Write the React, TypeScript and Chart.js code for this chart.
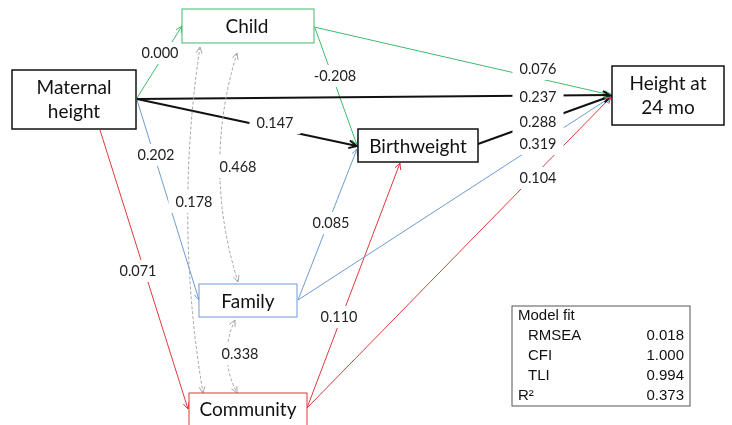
import React, { useEffect, useRef } from "react";
import { Chart, registerables } from "chart.js";
Chart.register(...registerables);

// ---- data ----
const nodeNames = ["Maternal\nheight", "Child", "Birthweight", "Family", "Community", "Height at\n24 mo"];
const pathFrom = ["Maternal", "Maternal", "Maternal", "Maternal", "Maternal", "Child", "Child", "Birthweight", "Family", "Family", "Community", "Community"];
const pathTo = ["Child", "Height", "Birthweight", "Family", "Community", "Height", "Birthweight", "Height", "Birthweight", "Height", "Birthweight", "Height"];
const pathCoef = ["0.000", "0.237", "0.147", "0.202", "0.071", "0.076", "-0.208", "0.288", "0.085", "0.319", "0.110", "0.104"];
const covPairs = ["Child-Community", "Child-Family", "Family-Community"];
const covCoef = ["0.178", "0.468", "0.338"];
const fitTitle = "Model fit";
const fitLabels = ["RMSEA", "CFI", "TLI", "R²"];
const fitValues = ["0.018", "1.000", "0.994", "0.373"];

// ---- layout (positions / styles) ----
const GREEN = "#3dbb6c";
const BLUE = "#6d9bd3";
const RED = "#e0393b";
const BLACK = "#111111";
const GREY = "#a3a3a3";

const nodeBoxes = [
  { x0: 12, y0: 70, x1: 136, y1: 129, color: BLACK, w: 1.5, lines: [[74, 88], [74, 112]] },
  { x0: 182, y0: 9, x1: 314, y1: 43, color: GREEN, w: 1, lines: [[247, 27]] },
  { x0: 358, y0: 129, x1: 478, y1: 162, color: BLACK, w: 1.5, lines: [[418, 147]] },
  { x0: 199, y0: 284, x1: 297, y1: 317, color: BLUE, w: 1, lines: [[248, 302]] },
  { x0: 189, y0: 393, x1: 307, y1: 432, color: RED, w: 1, lines: [[248, 410]] },
  { x0: 612, y0: 66, x1: 724, y1: 125, color: BLACK, w: 1.5, lines: [[668, 84], [668, 108]] },
];

const pathGeom = [
  { a: [137, 98], b: [182, 26], c: GREEN, w: 1, l: [160, 53] },
  { a: [137, 99], b: [611, 95], c: BLACK, w: 2, l: [538, 97] },
  { a: [137, 99], b: [357, 146], c: BLACK, w: 2, l: [275, 123] },
  { a: [137, 100], b: [199, 300], c: BLUE, w: 1, l: [156, 155] },
  { a: [100, 130], b: [188, 409], c: RED, w: 1, l: [138, 271] },
  { a: [314, 27], b: [611, 95], c: GREEN, w: 1, l: [538, 69] },
  { a: [315, 28], b: [357, 145], c: GREEN, w: 1, l: [335, 76] },
  { a: [478, 144], b: [611, 96], c: BLACK, w: 2, l: [538, 122] },
  { a: [298, 300], b: [357, 149], c: BLUE, w: 1, l: [331, 223] },
  { a: [298, 300], b: [611, 97], c: BLUE, w: 1, l: [538, 144] },
  { a: [307, 408], b: [400, 163], c: RED, w: 1, l: [339, 317] },
  { a: [307, 408], b: [611, 97], c: RED, w: 1, l: [538, 178] },
];

const covGeom = [
  { a: [200, 47], ctrl: [174, 220], b: [203, 393], l: [194, 202] },
  { a: [237, 53], ctrl: [202, 167], b: [238, 282], l: [238, 167] },
  { a: [235, 320], ctrl: [218, 356], b: [237, 393], l: [240, 354] },
];

const fitBox = { x0: 512, y0: 306, x1: 690, y1: 406 };

export default function App() {
  const ref = useRef<HTMLCanvasElement | null>(null);
  useEffect(() => {
    document.body.style.margin = "0";
    const canvas = ref.current!;
    const datasets = pathFrom.map((f, i) => ({
      label: f + "→" + pathTo[i] + " " + pathCoef[i],
      data: [
        { x: pathGeom[i].a[0], y: pathGeom[i].a[1] },
        { x: pathGeom[i].b[0], y: pathGeom[i].b[1] },
      ],
      showLine: true,
      borderColor: pathGeom[i].c,
      borderWidth: pathGeom[i].w,
      pointRadius: 0,
      fill: false,
    }));

    const plugin = {
      id: "pathDiagram",
      afterDatasetsDraw(chart: any) {
        const ctx: CanvasRenderingContext2D = chart.ctx;
        const sx = chart.scales.x;
        const sy = chart.scales.y;
        const X = (v: number) => sx.getPixelForValue(v);
        const Y = (v: number) => sy.getPixelForValue(v);

        const arrow = (tx: number, ty: number, fx: number, fy: number, size: number, color: string, w: number) => {
          const ang = Math.atan2(ty - fy, tx - fx);
          ctx.save();
          ctx.strokeStyle = color;
          ctx.lineWidth = w;
          ctx.setLineDash([]);
          ctx.beginPath();
          ctx.moveTo(tx - size * Math.cos(ang - 0.45), ty - size * Math.sin(ang - 0.45));
          ctx.lineTo(tx, ty);
          ctx.lineTo(tx - size * Math.cos(ang + 0.45), ty - size * Math.sin(ang + 0.45));
          ctx.stroke();
          ctx.restore();
        };

        // arrowheads for paths
        pathGeom.forEach((g) => {
          arrow(X(g.b[0]), Y(g.b[1]), X(g.a[0]), Y(g.a[1]), g.w > 1 ? 9 : 7, g.c, g.w);
        });

        // covariance curves
        covGeom.forEach((g) => {
          ctx.save();
          ctx.strokeStyle = GREY;
          ctx.lineWidth = 1;
          ctx.setLineDash([3, 2]);
          ctx.beginPath();
          ctx.moveTo(X(g.a[0]), Y(g.a[1]));
          ctx.quadraticCurveTo(X(g.ctrl[0]), Y(g.ctrl[1]), X(g.b[0]), Y(g.b[1]));
          ctx.stroke();
          ctx.restore();
          arrow(X(g.a[0]), Y(g.a[1]), X(g.ctrl[0]), Y(g.ctrl[1]), 7, GREY, 1);
          arrow(X(g.b[0]), Y(g.b[1]), X(g.ctrl[0]), Y(g.ctrl[1]), 7, GREY, 1);
        });

        // labels
        const drawLabel = (txt: string, x: number, y: number) => {
          ctx.save();
          ctx.font = "14.5px Lato";
          const w = ctx.measureText(txt).width;
          ctx.fillStyle = "#ffffff";
          ctx.fillRect(x - w / 2 - 7, y - 11, w + 14, 22);
          ctx.fillStyle = "#222222";
          ctx.textAlign = "center";
          ctx.textBaseline = "middle";
          ctx.fillText(txt, x, y);
          ctx.restore();
        };
        pathCoef.forEach((c, i) => drawLabel(c, X(pathGeom[i].l[0]), Y(pathGeom[i].l[1])));
        covCoef.forEach((c, i) => drawLabel(c, X(covGeom[i].l[0]), Y(covGeom[i].l[1])));

        // node boxes
        nodeNames.forEach((name, i) => {
          const b = nodeBoxes[i];
          const x0 = X(b.x0), y0 = Y(b.y0), x1 = X(b.x1), y1 = Y(b.y1);
          ctx.save();
          ctx.fillStyle = "#ffffff";
          ctx.fillRect(x0, y0, x1 - x0, y1 - y0);
          ctx.strokeStyle = b.color;
          ctx.lineWidth = b.w;
          ctx.strokeRect(x0, y0, x1 - x0, y1 - y0);
          ctx.fillStyle = "#111111";
          ctx.font = "19px Lato";
          ctx.textAlign = "center";
          ctx.textBaseline = "middle";
          name.split("\n").forEach((line, k) => {
            ctx.fillText(line, X(b.lines[k][0]), Y(b.lines[k][1]));
          });
          ctx.restore();
        });

        // model fit box
        {
          const x0 = X(fitBox.x0), y0 = Y(fitBox.y0), x1 = X(fitBox.x1), y1 = Y(fitBox.y1);
          ctx.save();
          ctx.fillStyle = "#ffffff";
          ctx.fillRect(x0, y0, x1 - x0, y1 - y0);
          ctx.strokeStyle = "#555555";
          ctx.lineWidth = 1;
          ctx.strokeRect(x0, y0, x1 - x0, y1 - y0);
          ctx.fillStyle = "#111111";
          ctx.font = "15px 'Liberation Sans'";
          ctx.textBaseline = "middle";
          ctx.textAlign = "left";
          ctx.fillText(fitTitle, X(518), Y(316));
          fitLabels.forEach((lab, k) => {
            const yy = Y(336 + k * 20);
            ctx.textAlign = "left";
            ctx.fillText(lab, X(k === 3 ? 518 : 528), yy);
            ctx.textAlign = "right";
            ctx.fillText(fitValues[k], X(684), yy);
          });
          ctx.restore();
        }
      },
    };

    const chart = new Chart(canvas, {
      type: "scatter",
      data: { datasets },
      options: {
        responsive: false,
        animation: false,
        layout: { padding: 0 },
        plugins: { legend: { display: false }, tooltip: { enabled: false } },
        scales: {
          x: { type: "linear", min: 0, max: 732, display: false },
          y: { type: "linear", min: 0, max: 425, reverse: true, display: false },
        },
      },
      plugins: [plugin],
    } as any);
    return () => chart.destroy();
  }, []);

  return (
    <div style={{ position: "absolute", left: 0, top: 0, width: 732, height: 425, background: "#fff" }}>
      <canvas ref={ref} width={732} height={425} />
    </div>
  );
}
